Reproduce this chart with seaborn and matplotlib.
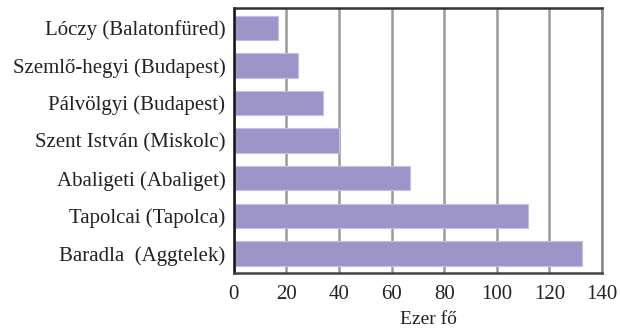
import matplotlib
matplotlib.use("Agg")
import matplotlib.pyplot as plt
import seaborn as sns
import pandas as pd

# data
caves = ["Lóczy (Balatonfüred)", "Szemlő-hegyi (Budapest)", "Pálvölgyi (Budapest)",
         "Szent István (Miskolc)", "Abaligeti (Abaliget)", "Tapolcai (Tapolca)",
         "Baradla  (Aggtelek)"]
visitors = [17, 24.5, 34, 40, 67, 112, 132.5]
xticks = [0, 20, 40, 60, 80, 100, 120, 140]

df = pd.DataFrame({"cave": caves, "visitors": visitors})

sns.set_style("white")
plt.rcParams["font.family"] = ["Liberation Serif", "DejaVu Serif"]

fig = plt.figure(figsize=(6.2, 3.28), dpi=100)
ax = fig.add_axes([0.377, 0.168, 0.594, 0.808])

sns.barplot(data=df, x="visitors", y="cave", ax=ax, color="#9d95c9",
            saturation=1, width=0.65, edgecolor="#c4bfe6", linewidth=0.8, zorder=3)

ax.set_xlim(0, 140)
ax.set_ylim(6.52, -0.53)
ax.set_xticks(xticks)
ax.set_xticklabels([str(t) for t in xticks])
ax.xaxis.grid(True, color="#9a9a9a", linewidth=1.8, zorder=0)
ax.set_axisbelow(True)
ax.set_ylabel("")
ax.set_xlabel("Ezer fő", fontsize=14, color="#222222")
ax.xaxis.set_label_coords(0.53, -0.145)

ax.tick_params(axis="y", length=0, labelsize=15, pad=6, colors="#222222")
ax.tick_params(axis="x", length=8, width=1.6, direction="inout", color="#444444",
               labelsize=15, pad=5, labelcolor="#222222")

for side, col in [("left", "#111111"), ("bottom", "#444444"),
                  ("top", "#333333"), ("right", "#888888")]:
    ax.spines[side].set_visible(True)
    ax.spines[side].set_color(col)
    ax.spines[side].set_linewidth(1.8)
    ax.spines[side].set_zorder(5)

fig.savefig("out.png", dpi=100)
